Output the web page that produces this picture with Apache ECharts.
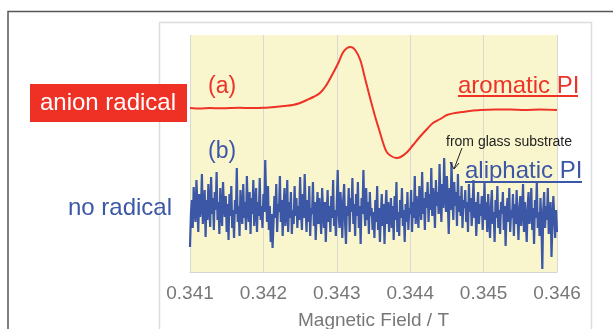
<!DOCTYPE html>
<html>
<head>
<meta charset="utf-8">
<script src="https://cdn.jsdelivr.net/npm/echarts@6/dist/echarts.min.js"></script>
<style>
  html, body { margin: 0; padding: 0; background: #fff; }
  #chart { width: 613px; height: 329px; }
</style>
</head>
<body>
<div id="chart"></div>
<script>
// x axis ticks (T)
var fieldTicks = [0.341, 0.342, 0.343, 0.344, 0.345, 0.346];

// (a) aromatic PI - anion radical signal (arbitrary units)
var fieldA = [0.34100, 0.34114, 0.34127, 0.34141, 0.34154, 0.34168, 0.34182, 0.34201,
  0.34216, 0.34229, 0.34240, 0.34250, 0.34259, 0.34268, 0.34277, 0.34285, 0.34295,
  0.34302, 0.34308, 0.34314, 0.34319, 0.34325, 0.34332, 0.34338, 0.34345, 0.34352,
  0.34359, 0.34364, 0.34368, 0.34374, 0.34381, 0.34387, 0.34396, 0.34404, 0.34413,
  0.34423, 0.34431, 0.34441, 0.34450, 0.34461, 0.34471, 0.34481, 0.34495, 0.34516,
  0.34536, 0.34556, 0.34577, 0.34600];
var signalA = [164, 163.5, 164, 163.7, 164, 164.2, 164, 164.2,
  165, 166, 167, 169, 172, 175, 179, 186, 199,
  209, 219, 224, 225, 222, 212, 195, 175, 156,
  139, 127, 120, 116, 114, 115, 120, 127, 135,
  143, 149, 153, 157, 159, 160, 161, 162, 162.5,
  162.5, 162, 162.5, 162];

// (b) aliphatic PI - no radical, noise only (sweep 0.341 -> 0.346, 401 points)
var fieldStartB = 0.341;
var fieldStepB = 0.0000125;
var signalB = [
  25, 58, 72, 44, 85, 62, 50, 92, 70, 40, 78, 55, 66, 98, 48, 60, 82, 35, 72, 52,
  88, 66, 45, 95, 58, 74, 42, 80, 62, 100, 52, 70, 38, 84, 60, 46, 90, 64, 55, 76,
  40, 68, 32, 78, 56, 86, 44, 62, 34, 72, 58, 104, 50, 66, 36, 82, 60, 48, 88, 54,
  70, 42, 96, 62, 50, 80, 38, 74, 58, 92, 46, 64, 84, 40, 70, 56, 94, 52, 66, 44,
  78, 60, 112, 72, 50, 86, 42, 66, 30, 58, 24, 48, 76, 54, 88, 40, 68, 60, 96, 50,
  72, 36, 64, 84, 46, 58, 92, 40, 70, 54, 80, 38, 62, 48, 86, 56, 74, 44, 66, 52,
  95, 60, 42, 78, 54, 98, 66, 40, 72, 50, 86, 36, 64, 58, 90, 46, 70, 32, 60, 80,
  48, 74, 56, 38, 84, 62, 44, 70, 30, 58, 82, 50, 66, 40, 76, 54, 92, 46, 62, 36,
  70, 102, 58, 44, 80, 62, 34, 72, 88, 50, 28, 66, 56, 84, 40, 74, 60, 94, 48, 68,
  36, 78, 56, 90, 44, 66, 28, 74, 58, 102, 62, 46, 84, 52, 70, 38, 80, 56, 64, 42,
  60, 34, 72, 50, 86, 42, 64, 30, 56, 78, 46, 68, 28, 62, 82, 48, 70, 40, 58, 74,
  44, 66, 32, 76, 52, 90, 40, 60, 36, 72, 54, 84, 46, 62, 30, 68, 50, 80, 42, 64,
  58, 82, 40, 70, 54, 96, 48, 76, 62, 44, 86, 66, 52, 100, 58, 74, 42, 80, 64, 90,
  50, 78, 62, 104, 56, 84, 70, 44, 92, 66, 80, 58, 108, 72, 50, 88, 64, 114, 76, 60,
  96, 70, 38, 84, 62, 110, 74, 52, 90, 66, 80, 46, 98, 60, 76, 56, 86, 44, 72, 64,
  82, 50, 70, 40, 88, 60, 74, 46, 66, 92, 54, 70, 36, 62, 80, 48, 68, 56, 76, 42,
  64, 89, 52, 70, 40, 78, 56, 34, 66, 82, 48, 60, 30, 72, 54, 86, 44, 62, 38, 70,
  58, 80, 42, 66, 26, 60, 74, 50, 84, 40, 62, 54, 78, 36, 68, 48, 82, 56, 32, 64,
  76, 46, 62, 88, 40, 70, 52, 30, 66, 80, 48, 58, 84, 42, 64, 28, 72, 54, 90, 44,
  60, 36, 74, 50, 3, 62, 80, 44, 66, 52, 84, 38, 58, 70, 15, 48, 76, 56, 34, 62, 40
];

var red = "#ee3226";
var blue = "#3d57a7";

var chart = echarts.init(document.getElementById("chart"));

var dataA = fieldA.map(function (f, i) { return [f, signalA[i]]; });
var dataB = signalB.map(function (v, i) { return [fieldStartB + i * fieldStepB, v]; });

var option = {
  animation: false,
  grid: {
    left: 190,
    right: 56,
    top: 35,
    bottom: 57,
    outerBoundsMode: "none",
    show: true,
    backgroundColor: "#f9f6cd",
    borderWidth: 0,
  },
  xAxis: {
    type: "value",
    min: fieldTicks[0],
    max: fieldTicks[fieldTicks.length - 1],
    interval: 0.001,
    name: "Magnetic Field / T",
    nameLocation: "middle",
    nameGap: 39,
    nameTextStyle: { fontFamily: "Liberation Sans", fontSize: 19, color: "#777" },
    axisLine: { show: true, lineStyle: { color: "#d4d4d4", width: 1 } },
    axisTick: { show: false },
    axisLabel: {
      fontFamily: "Liberation Sans",
      fontSize: 19,
      color: "#777",
      margin: 12,
      formatter: function (v) { return v.toFixed(3); },
    },
    splitLine: { show: true, lineStyle: { color: "#d9d9d4", width: 1 } },
  },
  yAxis: {
    type: "value",
    min: 0,
    max: 237,
    show: false,
    splitLine: { show: false },
  },
  series: [
    {
      name: "aliphatic PI",
      type: "line",
      data: dataB,
      showSymbol: false,
      lineStyle: { color: blue, width: 2.2 },
    },
    {
      name: "aromatic PI",
      type: "line",
      data: dataA,
      showSymbol: false,
      smooth: 0.3,
      lineStyle: { color: red, width: 2 },
    },
  ],
  graphic: [
    // outer frame
    { type: "polyline", shape: { points: [[8, 329], [8, 11.5], [613, 11.5]] }, style: { stroke: "#555", lineWidth: 1.5, fill: null } },
    // inner frame
    { type: "rect", shape: { x: 159.5, y: 22.5, width: 432, height: 320 }, style: { stroke: "#dcdcdc", lineWidth: 1.5, fill: null }, z: -1 },
    // labels on the left
    { type: "rect", shape: { x: 30, y: 84, width: 157, height: 38 }, style: { fill: "#ee3124" } },
    { type: "text", x: 108, y: 103, style: { text: "anion radical", fill: "#fff", fontFamily: "Liberation Sans", fontSize: 24, align: "center", verticalAlign: "middle" } },
    { type: "text", x: 172, y: 208, style: { text: "no radical", fill: blue, fontFamily: "Liberation Sans", fontSize: 24, align: "right", verticalAlign: "middle" } },
    // (a) / (b)
    { type: "text", x: 208, y: 87, style: { text: "(a)", fill: red, fontFamily: "Liberation Sans", fontSize: 23, verticalAlign: "middle" }, z: 10 },
    { type: "text", x: 208, y: 152, style: { text: "(b)", fill: blue, fontFamily: "Liberation Sans", fontSize: 23, verticalAlign: "middle" }, z: 10 },
    // sample names
    { type: "text", x: 458, y: 86, style: { text: "aromatic PI", fill: red, fontFamily: "Liberation Sans", fontSize: 24, verticalAlign: "middle" }, z: 10 },
    { type: "line", shape: { x1: 458, y1: 96, x2: 578, y2: 96 }, style: { stroke: red, lineWidth: 2 }, z: 10 },
    { type: "text", x: 465, y: 171, style: { text: "aliphatic PI", fill: blue, fontFamily: "Liberation Sans", fontSize: 24, verticalAlign: "middle" }, z: 10 },
    { type: "line", shape: { x1: 465, y1: 182, x2: 582, y2: 182 }, style: { stroke: blue, lineWidth: 2 }, z: 10 },
    // note + arrow
    { type: "text", x: 446, y: 142, style: { text: "from glass substrate", fill: "#222", fontFamily: "Liberation Sans", fontSize: 14, verticalAlign: "middle" }, z: 10 },
    { type: "line", shape: { x1: 462, y1: 148, x2: 454, y2: 169 }, style: { stroke: "#222", lineWidth: 1 }, z: 10 },
    { type: "polyline", shape: { points: [[450, 162], [454, 169], [459, 163]] }, style: { stroke: "#222", lineWidth: 1, fill: null }, z: 10 },
  ],
};

chart.setOption(option);
</script>
</body>
</html>
